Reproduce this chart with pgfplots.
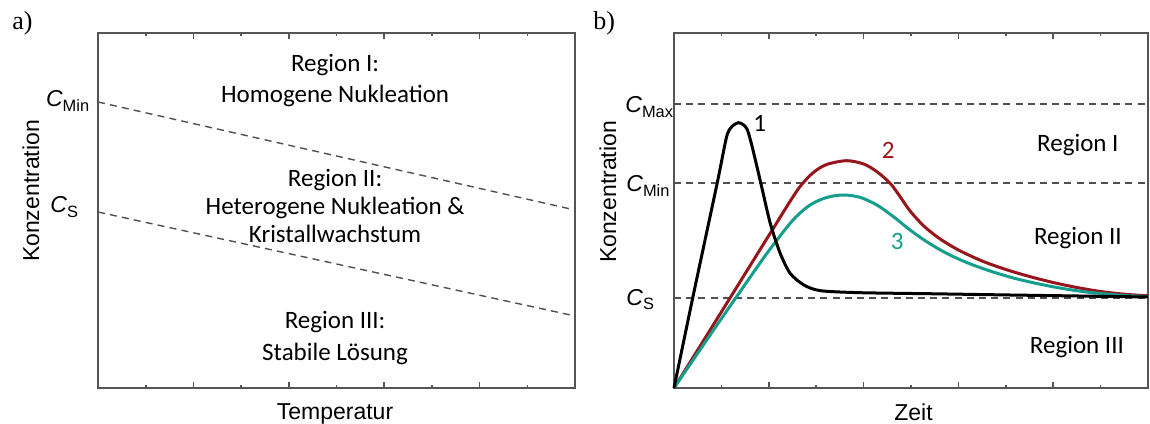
\documentclass[border=0pt]{standalone}
\usepackage{fontspec}
\usepackage{pgfplots}
\pgfplotsset{compat=1.18}
\setmainfont{Carlito}
\newfontfamily\arialf{Liberation Sans}
\newfontfamily\timesf{Liberation Serif}
\definecolor{axgray}{RGB}{85,85,85}
\definecolor{dashgray}{RGB}{80,80,80}
\definecolor{cred}{RGB}{150,22,28}
\definecolor{cteal}{RGB}{20,158,140}
\newcommand{\reg}{\fontsize{12.5}{15}\selectfont}
\newcommand{\lab}{\arialf\fontsize{11.5}{13}\selectfont}
\newcommand{\cl}[1]{{\arialf\fontsize{11.5}{13}\selectfont\itshape C}\raisebox{-0.45ex}{\arialf\fontsize{8.2}{9}\selectfont #1}}
\pgfplotsset{
  panel/.style={
    scale only axis, anchor=south west,
    xmin=0, xmax=10, ymin=0, ymax=355,
    xtick={2,4,6,8}, minor xtick={1,3,5,7,9},
    xticklabels={}, ytick=\empty,
    tick align=inside,
    major tick length=3pt, minor tick length=1.6pt,
    axis line style={draw=axgray, line width=0.9pt},
    every tick/.append style={draw=axgray, line width=0.8pt},
    every minor tick/.append style={draw=axgray, line width=0.8pt},
    clip=false,
  },
  dashl/.style={draw=dashgray, line width=0.7pt, dash pattern=on 3.5pt off 2.6pt},
}
\begin{document}
\begin{tikzpicture}
\path[use as bounding box] (0,0) rectangle (575pt,211.5pt);
% ---------------- panel a ----------------
\begin{axis}[panel, at={(49pt,17.5pt)}, width=238.5pt, height=177.5pt]
\addplot[dashl] coordinates {(0,286) (10,178)};
\addplot[dashl] coordinates {(0,176) (10,72)};
\node[anchor=base, font=\reg] at (axis cs:4.97,316) {Region I:};
\node[anchor=base, font=\reg] at (axis cs:4.97,285) {Homogene Nukleation};
\node[anchor=base, font=\reg] at (axis cs:4.97,201) {Region II:};
\node[anchor=base, font=\reg] at (axis cs:4.97,173) {Heterogene Nukleation \&};
\node[anchor=base, font=\reg] at (axis cs:4.97,145) {Kristallwachstum};
\node[anchor=base, font=\reg] at (axis cs:4.97,60) {Region III:};
\node[anchor=base, font=\reg] at (axis cs:4.97,28) {Stabile Lösung};
\end{axis}
% ---------------- panel b ----------------
\begin{axis}[panel, at={(337pt,17.5pt)}, width=237pt, height=177.5pt]
\addplot[dashl] coordinates {(0,284) (10,284)};
\addplot[dashl] coordinates {(0,205) (10,205)};
\addplot[dashl] coordinates {(0,90) (10,90)};
% curve 2 (red)
\addplot[cred, line width=1.5pt, smooth, tension=0.5] coordinates {
(0,0) (0.90,68.5) (1.81,138) (2.10,160) (2.38,181.5) (2.66,201.5) (2.94,215.5) (3.22,223.5)
(3.64,227.3) (4.00,224) (4.28,216.3) (4.56,204.7) (4.77,191.3) (4.98,177)
(5.27,162) (5.6,149.5) (6.0,138) (6.5,127) (7.0,118.5) (7.5,111.5)
(8.0,105.5) (8.5,100.5) (9.0,96.5) (9.5,93.8) (10,92.2)};
% curve 3 (teal)
\addplot[cteal, line width=1.5pt, smooth, tension=0.5] coordinates {
(0,0) (0.90,62.5) (1.81,124.7) (2.10,143.5) (2.52,168.5) (2.87,183) (3.22,190.5)
(3.57,193) (3.92,190.7) (4.28,183) (4.63,171.3) (4.98,158) (5.33,146.3)
(5.75,134.7) (6.2,125) (6.7,116.5) (7.2,109.5) (7.7,104) (8.2,99.5)
(8.7,96) (9.2,93.6) (9.6,92.2) (10,91.5)};
% curve 1 (black)
\addplot[black, line width=1.5pt, smooth, tension=0.45] coordinates {
(0,0) (0.40,91.3) (0.91,204.7) (1.11,251.3) (1.22,261.3) (1.36,265.3)
(1.47,263) (1.55,258) (1.64,243) (1.75,221.3) (1.86,199) (2.03,164.7)
(2.24,134.7) (2.45,114.7) (2.74,103) (3.09,97.3) (3.93,95.3) (5.5,94.2)
(7.09,93) (10,91)};
\node[font=\reg] at (axis cs:1.81,265) {1};
\node[font=\reg, text=cred] at (axis cs:4.52,238) {2};
\node[font=\reg, text=cteal] at (axis cs:4.71,146.3) {3};
\node[font=\reg] at (axis cs:8.52,243) {Region I};
\node[font=\reg] at (axis cs:8.52,150) {Region II};
\node[font=\reg] at (axis cs:8.50,41) {Region III};
\end{axis}
% ---------------- outer labels ----------------
\node[anchor=base west, font=\timesf\fontsize{13}{15}\selectfont, inner sep=0pt] at (6pt,196.5pt) {a)};
\node[anchor=base west, font=\timesf\fontsize{13}{15}\selectfont, inner sep=0pt] at (296.5pt,196.5pt) {b)};
\node[rotate=90, font=\lab, inner sep=0pt] at (15.5pt,116pt) {Konzentration};
\node[rotate=90, font=\lab, inner sep=0pt] at (304pt,115.5pt) {Konzentration};
\node[anchor=base, font=\lab, inner sep=0pt] at (167.5pt,2pt) {Temperatur};
\node[anchor=base, font=\lab, inner sep=0pt] at (456.75pt,1.5pt) {Zeit};
\node[anchor=base west, inner sep=0pt] at (22.85pt,158pt) {\cl{Min}};
\node[anchor=base west, inner sep=0pt] at (25pt,105pt) {\cl{S}};
\node[anchor=base west, inner sep=0pt] at (312.5pt,155pt) {\cl{Max}};
\node[anchor=base west, inner sep=0pt] at (313pt,115.5pt) {\cl{Min}};
\node[anchor=base west, inner sep=0pt] at (313pt,59pt) {\cl{S}};
\end{tikzpicture}
\end{document}
